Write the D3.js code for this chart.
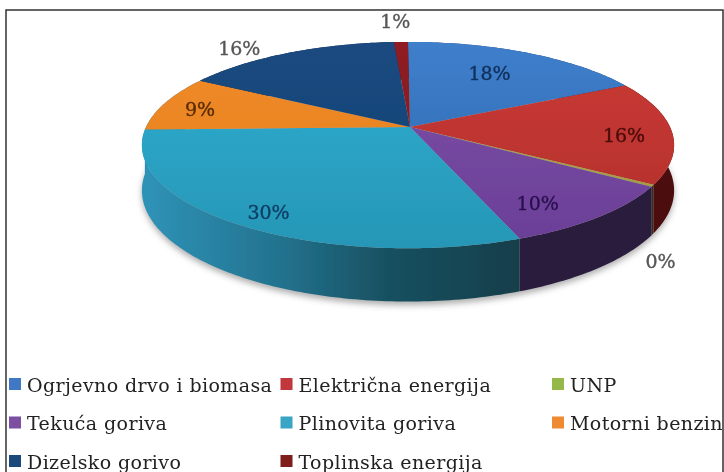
<!DOCTYPE html>
<html>
<head>
<meta charset="utf-8">
<script src="https://cdn.jsdelivr.net/npm/d3@7"></script>
<style>
    html, body { margin: 0; padding: 0; background: #fff; }
    svg { display: block; }
</style>
</head>
<body>
<div id="chart"></div>
<script>
var width = 724, height = 472;

var categories = ["Ogrjevno drvo i biomasa", "Električna energija", "UNP", "Tekuća goriva",
                  "Plinovita goriva", "Motorni benzin", "Dizelsko gorivo", "Toplinska energija"];
var shares = [17.6, 16.2, 0.3, 10.1, 30.4, 8.8, 15.6, 1];

var colorTop    = ["#3f7fcc", "#cb3a34", "#b0a848", "#7d4fa8", "#31afd2", "#f28c28", "#1a4a80", "#8f1c22"];
var colorBottom = ["#2c64aa", "#b02f2b", "#a09840", "#6a3f96", "#2696b6", "#e07c1e", "#17406f", "#7c171c"];
var colorWall   = ["#1c3f6e", "#4c0d0e", "#3a2a20", "#2b1a3e", "#2d8fb2", "#2d8fb2", "#10294a", "#4c0d0e"];
var legendColor = ["#3f78c4", "#c0393a", "#94b84a", "#7b4fa3", "#37a5c4", "#ee8a30", "#1f4a7c", "#7f1a1e"];
var labelColor  = ["#10305c", "#4a0a0a", "#555555", "#2a1050", "#0f3f66", "#5a2c05", "#555555", "#555555"];

// radius and shift of each label, on the projected disc
var labelRadius = [0.65, 0.82, 1.03, 0.70, 0.85, 0.85, 1.50, 1.30];
var labelShift  = [-3, 5, 74, 16, 5, 3, 26, 0];
var labelNudge  = [0, 0, 0, 2, 2, 0, 0, -4];

// perspective disc, the apex sits a little right of the ellipse middle
var cx = 408, cy = 127, rx = 262, ry = 100, persp = 0.175, depth = 44, apexOff = 2;

function project(a, r, drop) {
    var u = Math.sin(a) * r, v = -Math.cos(a) * r;
    var w = 1 - persp * v;
    return [cx + rx * u / w, cy + (ry * v + (drop || 0)) / w];
}

function arcPoints(a0, a1, drop) {
    var n = Math.max(2, Math.ceil((a1 - a0) * 60));
    return d3.range(n + 1).map(function(i) {
        return project(a0 + (a1 - a0) * i / n, 1, drop);
    });
}

var line = d3.line();
var slices = d3.pie().sort(null).value(function(d) { return d; })(shares);

var svg = d3.select("#chart").append("svg")
    .attr("width", width)
    .attr("height", height);

var defs = svg.append("defs");

defs.append("filter").attr("id", "soft")
    .attr("x", "-5%").attr("y", "-5%").attr("width", "110%").attr("height", "110%")
    .append("feGaussianBlur").attr("stdDeviation", 0.7);

defs.append("filter").attr("id", "shadow")
    .attr("x", "-10%").attr("y", "-10%").attr("width", "120%").attr("height", "120%")
    .append("feGaussianBlur").attr("stdDeviation", 3);

slices.forEach(function(d, i) {
    var g = defs.append("linearGradient").attr("id", "top" + i)
        .attr("gradientUnits", "userSpaceOnUse")
        .attr("x1", 0).attr("x2", 0).attr("y1", 42).attr("y2", 250);
    g.append("stop").attr("offset", "0%").attr("stop-color", colorTop[i]);
    g.append("stop").attr("offset", "100%").attr("stop-color", colorBottom[i]);
});

// the big front wall goes dark from left to right
var wallFade = defs.append("linearGradient").attr("id", "wallFade")
    .attr("gradientUnits", "userSpaceOnUse")
    .attr("x1", 142).attr("x2", 522).attr("y1", 0).attr("y2", 0);
wallFade.append("stop").attr("offset", "0%").attr("stop-color", "#2f93b8");
wallFade.append("stop").attr("offset", "35%").attr("stop-color", "#237490");
wallFade.append("stop").attr("offset", "65%").attr("stop-color", "#185060");
wallFade.append("stop").attr("offset", "100%").attr("stop-color", "#123e4a");

var plot = svg.append("g").attr("filter", "url(#soft)");

// frame
plot.append("path")
    .attr("d", line([[6, height], [6, 10], [723, 10], [723, height]]))
    .attr("fill", "none")
    .attr("stroke", "#333")
    .attr("stroke-width", 1.5);

// shadow under the disc
plot.append("path")
    .attr("d", line(arcPoints(0, 2 * Math.PI, depth + 3)) + "Z")
    .attr("fill", "#777")
    .attr("opacity", 0.6)
    .attr("filter", "url(#shadow)");

// walls first, the top surfaces cover the back part of them
plot.append("g").selectAll("path")
    .data(slices)
    .enter()
    .append("path")
    .attr("d", function(d) {
        var upper = arcPoints(d.startAngle, d.endAngle, 0);
        var lower = arcPoints(d.startAngle, d.endAngle, depth).reverse();
        return line(upper.concat(lower)) + "Z";
    })
    .attr("fill", function(d, i) { return colorWall[i] === "#2d8fb2" ? "url(#wallFade)" : colorWall[i]; });

plot.append("g").selectAll("path")
    .data(slices)
    .enter()
    .append("path")
    .attr("d", function(d) {
        return line([[cx + apexOff, cy]].concat(arcPoints(d.startAngle, d.endAngle, 0))) + "Z";
    })
    .attr("fill", function(d, i) { return "url(#top" + i + ")"; });

plot.append("g").selectAll("text")
    .data(slices)
    .enter()
    .append("text")
    .attr("x", function(d, i) { return project((d.startAngle + d.endAngle) / 2, labelRadius[i])[0] + labelNudge[i]; })
    .attr("y", function(d, i) { return project((d.startAngle + d.endAngle) / 2, labelRadius[i])[1] + labelShift[i]; })
    .attr("dy", "0.35em")
    .attr("text-anchor", "middle")
    .attr("font-family", "'DejaVu Serif', serif")
    .attr("font-size", 19)
    .attr("stroke-width", 0.35)
    .attr("fill", function(d, i) { return labelColor[i]; })
    .attr("stroke", function(d, i) { return labelColor[i]; })
    .text(function(d) { return d3.format(".0%")(Math.round(d.value) / 100); });

// legend, three columns
var legendX = d3.scalePoint().domain([0, 1, 2]).range([9, 552]);
var legendY = d3.scalePoint().domain([0, 1, 2]).range([385, 462]);

var legend = plot.append("g").selectAll("g")
    .data(categories)
    .enter()
    .append("g")
    .attr("transform", function(d, i) {
        return "translate(" + legendX(i % 3) + "," + legendY(Math.floor(i / 3)) + ")";
    });

legend.append("rect")
    .attr("x", 0)
    .attr("y", -7)
    .attr("width", 12)
    .attr("height", 12)
    .attr("fill", function(d, i) { return legendColor[i]; });

legend.append("text")
    .attr("x", 18)
    .attr("dy", "0.35em")
    .attr("font-family", "'DejaVu Serif', serif")
    .attr("font-size", 19)
    .attr("letter-spacing", 0.4)
    .attr("fill", "#222")
    .text(function(d) { return d; });
</script>
</body>
</html>
